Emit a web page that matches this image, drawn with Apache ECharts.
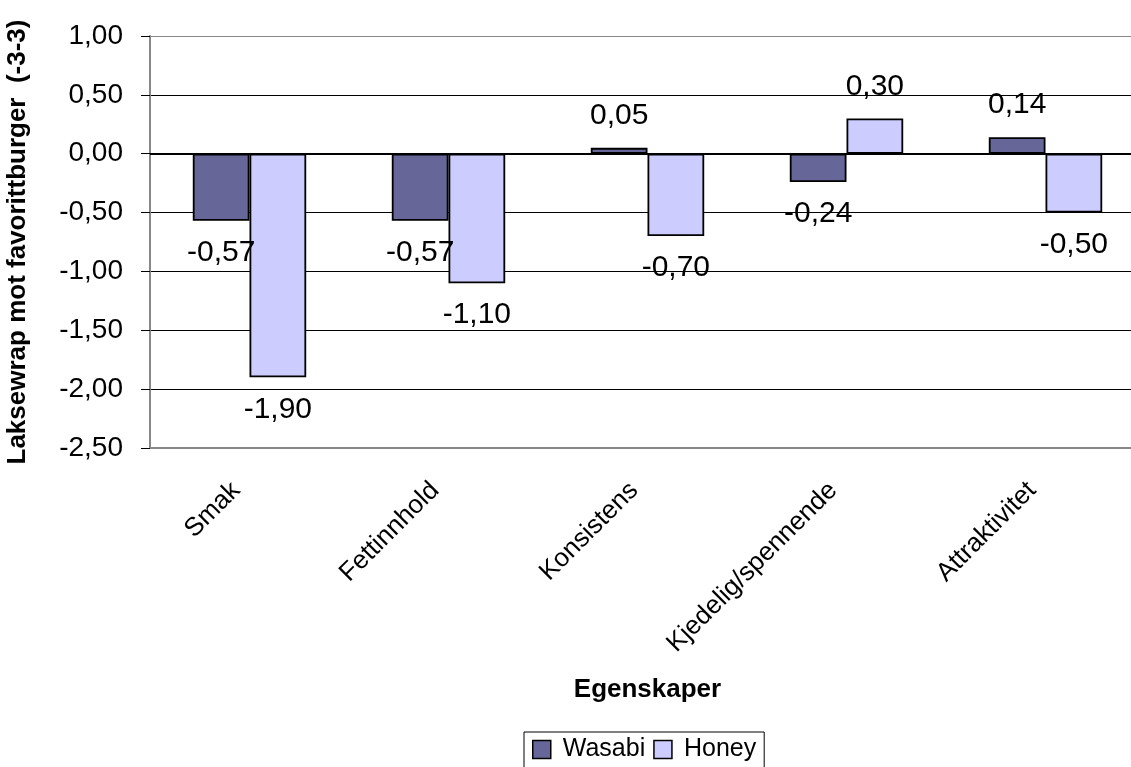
<!DOCTYPE html>
<html>
<head>
<meta charset="utf-8">
<script src="https://cdn.jsdelivr.net/npm/echarts@6/dist/echarts.min.js"></script>
<style>
  html, body { margin: 0; padding: 0; background: #fff; }
  #chart { width: 1131px; height: 767px; }
</style>
</head>
<body>
<div id="chart"></div>
<script>
var categories = ['Smak', 'Fettinnhold', 'Konsistens', 'Kjedelig/spennende', 'Attraktivitet'];
var wasabi = [-0.57, -0.57, 0.05, -0.24, 0.14];
var honey = [-1.90, -1.10, -0.70, 0.30, -0.50];
var seriesNames = ['Wasabi', 'Honey'];
var colors = ['#666699', '#CCCCFF'];

var chart = echarts.init(document.getElementById('chart'));

// komma som desimaltegn
function fmt(v) {
    return v.toFixed(2).replace('.', ',');
}

// etikett under negative søyler, over positive
function withLabels(arr) {
    return arr.map(function (v) {
        return {
            value: v,
            label: { position: v < 0 ? 'bottom' : 'top' }
        };
    });
}

function makeSeries(name, data, color, idx) {
    var s = {
        name: name,
        type: 'bar',
        data: withLabels(data),
        barGap: '0%',
        barCategoryGap: '43%',
        itemStyle: { color: color, borderColor: '#000', borderWidth: 1.8 },
        label: {
            show: true,
            distance: 17,
            color: '#000',
            fontSize: 30,
            fontFamily: 'Liberation Sans',
            formatter: function (p) { return fmt(p.value); }
        },
        emphasis: { disabled: true }
    };
    if (idx === 0) {
        s.markLine = {
            silent: true,
            symbol: 'none',
            label: { show: false },
            lineStyle: { color: '#000', width: 2, type: 'solid' },
            data: [{ yAxis: 0 }]
        };
    }
    return s;
}

chart.setOption({
    backgroundColor: '#fff',
    animation: false,
    textStyle: { fontFamily: 'Liberation Sans' },
    grid: {
        left: 150,
        top: 36,
        right: -14,
        height: 412,
        outerBoundsMode: 'none'
    },
    legend: {
        data: seriesNames,
        left: 524,
        top: 732,
        icon: 'rect',
        itemWidth: 18,
        itemHeight: 18,
        itemGap: 8,
        padding: [5, 8, 8, 8],
        borderColor: '#000',
        borderWidth: 1,
        borderRadius: 0,
        itemStyle: { borderColor: '#000', borderWidth: 1.5 },
        textStyle: { fontSize: 25, color: '#000', fontFamily: 'Liberation Sans', padding: [0, 0, 0, 7] }
    },
    xAxis: {
        type: 'category',
        data: categories,
        name: 'Egenskaper',
        nameLocation: 'middle',
        nameGap: 229,
        nameTextStyle: { fontSize: 26, fontWeight: 'bold', color: '#000' },
        axisLine: { onZero: false, lineStyle: { color: '#888', width: 2 } },
        axisTick: { show: false },
        axisLabel: {
            rotate: 45,
            margin: 25,
            padding: [0, 19, 0, 0],
            fontSize: 26,
            color: '#000',
            interval: 0
        }
    },
    yAxis: {
        type: 'value',
        min: -2.5,
        max: 1,
        interval: 0.5,
        name: 'Laksewrap mot favorittburger  (-3-3)',
        nameLocation: 'middle',
        nameRotate: 90,
        nameGap: 119,
        nameTextStyle: { fontSize: 26, fontWeight: 'bold', color: '#000' },
        axisLine: { show: true, lineStyle: { color: '#888', width: 2 } },
        axisTick: { show: true, length: 9, lineStyle: { color: '#000', width: 1 } },
        axisLabel: {
            margin: 27,
            fontSize: 28,
            color: '#000',
            formatter: function (v) { return fmt(v); }
        },
        splitLine: {
            show: true,
            lineStyle: {
                color: ['#888', '#000', '#000', '#000', '#000', '#000', '#000', '#888'],
                width: 1
            }
        }
    },
    series: [
        makeSeries(seriesNames[0], wasabi, colors[0], 0),
        makeSeries(seriesNames[1], honey, colors[1], 1)
    ]
});

window.addEventListener('resize', function () {
    chart.resize();
});
</script>
</body>
</html>
